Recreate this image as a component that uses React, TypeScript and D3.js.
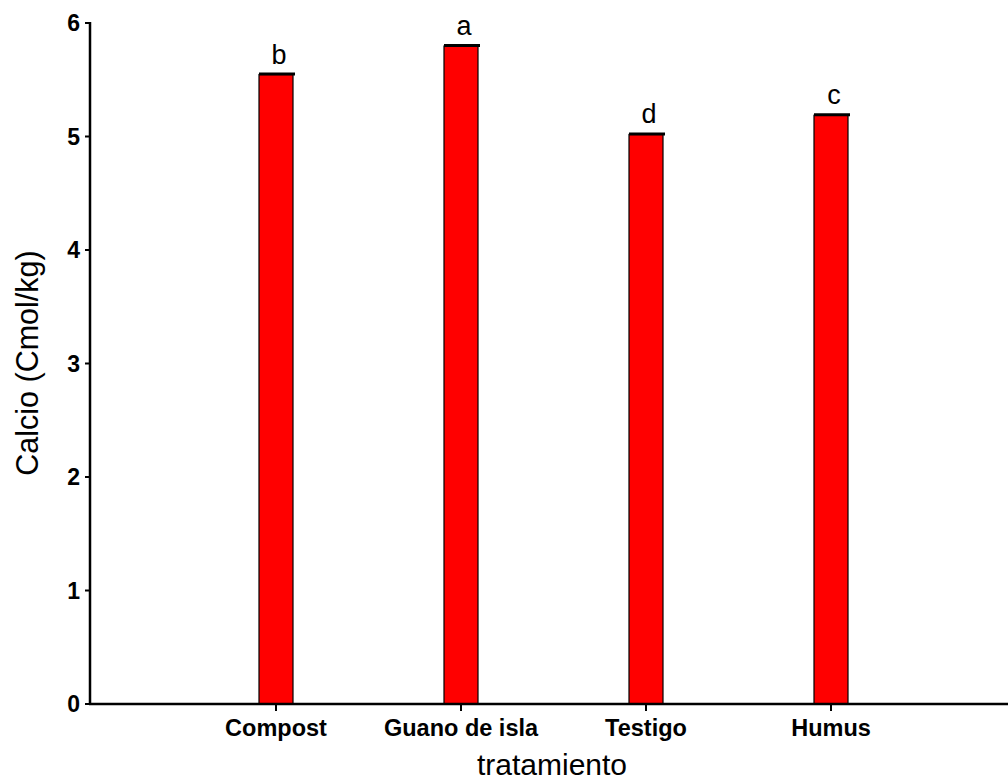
import React from "react";
import * as d3 from "d3";

// Calcium content per treatment
const categories = ["Compost", "Guano de isla", "Testigo", "Humus"];
const calcio = [5.546, 5.797, 5.018, 5.187];
const groupLetters = ["b", "a", "d", "c"];
const yTicks = [0, 1, 2, 3, 4, 5, 6];

const W = 1008;
const H = 781;

export default function App() {
  const axisX = 90;
  const y = d3.scaleLinear().domain([0, 6]).range([704, 23]);
  const x = d3.scalePoint<string>().domain(categories).range([276, 831]);
  const barW = 34;
  const font = "Arial, 'Liberation Sans', sans-serif";

  return (
    <div style={{ position: "absolute", left: 0, top: 0 }}>
      <svg width={W} height={H} style={{ display: "block", background: "#fff" }}>
        {/* bars */}
        {categories.map((c, i) => {
          const cx = x(c)!;
          const top = y(calcio[i]);
          return (
            <g key={c}>
              <rect
                x={cx - barW / 2}
                y={top}
                width={barW}
                height={y(0) - top}
                fill="#ff0000"
                stroke="#000"
                strokeWidth={1.2}
              />
              <line
                x1={cx - barW / 2}
                x2={cx + barW / 2 + 2}
                y1={top - 0.5}
                y2={top - 0.5}
                stroke="#000"
                strokeWidth={3}
              />
              <text
                x={cx + 3}
                y={top - 11}
                textAnchor="middle"
                fontFamily={font}
                fontSize={27}
                fill="#000"
              >
                {groupLetters[i]}
              </text>
            </g>
          );
        })}

        {/* y axis */}
        <line x1={axisX} x2={axisX} y1={y(6) - 1} y2={y(0) + 1} stroke="#000" strokeWidth={2.5} />
        {yTicks.map((t) => (
          <g key={t}>
            <line x1={axisX - 5} x2={axisX} y1={y(t)} y2={y(t)} stroke="#000" strokeWidth={2} />
            <text
              x={80}
              y={y(t)}
              dy="0.36em"
              textAnchor="end"
              fontFamily={font}
              fontWeight="bold"
              fontSize={23}
              fill="#000"
            >
              {t}
            </text>
          </g>
        ))}

        {/* x axis */}
        <line x1={axisX - 1} x2={W} y1={y(0)} y2={y(0)} stroke="#000" strokeWidth={2.5} />
        {categories.map((c) => (
          <g key={c}>
            <line x1={x(c)!} x2={x(c)!} y1={y(0)} y2={y(0) + 7} stroke="#000" strokeWidth={2} />
            <text
              x={x(c)!}
              y={736}
              textAnchor="middle"
              fontFamily={font}
              fontWeight="bold"
              fontSize={23.5}
              fill="#000"
            >
              {c}
            </text>
          </g>
        ))}

        {/* axis titles */}
        <text x={552} y={775} textAnchor="middle" fontFamily={font} fontSize={30} fill="#000">
          tratamiento
        </text>
        <text
          transform={`translate(38, 363) rotate(-90)`}
          textAnchor="middle"
          fontFamily={font}
          fontSize={30.5}
          fill="#000"
        >
          Calcio (Cmol/kg)
        </text>
      </svg>
    </div>
  );
}
